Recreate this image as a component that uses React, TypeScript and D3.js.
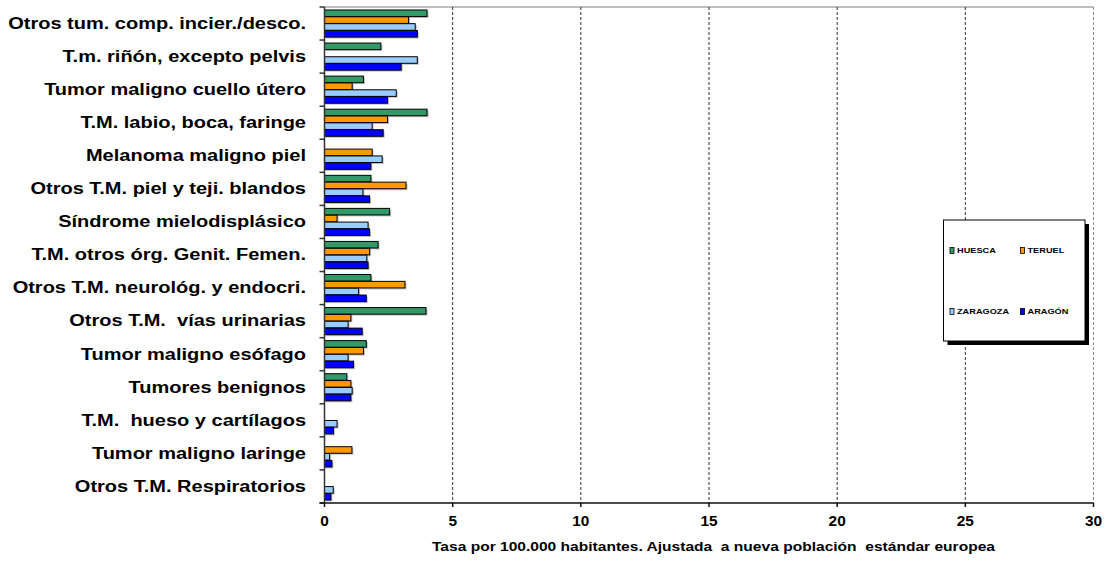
import React from "react";
import * as d3 from "d3";

const categories = [
  "Otros tum. comp. incier./desco.",
  "T.m. riñón, excepto pelvis",
  "Tumor maligno cuello útero",
  "T.M. labio, boca, faringe",
  "Melanoma maligno piel",
  "Otros T.M. piel y teji. blandos",
  "Síndrome mielodisplásico",
  "T.M. otros órg. Genit. Femen.",
  "Otros T.M. neurológ. y endocri.",
  "Otros T.M.  vías urinarias",
  "Tumor maligno esófago",
  "Tumores benignos",
  "T.M.  hueso y cartílagos",
  "Tumor maligno laringe",
  "Otros T.M. Respiratorios",
];

const huesca = [4.0, 2.2, 1.52, 4.0, 0, 1.81, 2.54, 2.09, 1.81, 3.96, 1.63, 0.87, 0, 0, 0];
const teruel = [3.28, 0, 1.08, 2.46, 1.86, 3.18, 0.49, 1.76, 3.14, 1.03, 1.52, 1.03, 0, 1.07, 0];
const zaragoza = [3.54, 3.62, 2.8, 1.86, 2.25, 1.5, 1.7, 1.65, 1.33, 0.92, 0.92, 1.08, 0.49, 0.2, 0.34];
const aragon = [3.62, 2.99, 2.46, 2.29, 1.81, 1.76, 1.76, 1.7, 1.63, 1.47, 1.13, 1.03, 0.35, 0.29, 0.25];

const seriesNames = ["HUESCA", "TERUEL", "ZARAGOZA", "ARAGÓN"];
const seriesValues = [huesca, teruel, zaragoza, aragon];
const seriesColors = ["#339966", "#FF9900", "#99CCFF", "#0000FF"];
const xTicks = [0, 5, 10, 15, 20, 25, 30];
const xTitle = "Tasa por 100.000 habitantes. Ajustada  a nueva población  estándar europea";

export default function App() {
  const W = 1112, H = 563;
  const left = 324.5, right = 1093.5, top = 7, bottom = 503;
  const x = d3.scaleLinear().domain([0, 30]).range([left, right]);
  const y = d3.scaleBand<string>().domain(categories).range([top, bottom]).padding(0);
  const bw = y.bandwidth();
  const inner = d3.scaleBand<string>().domain(seriesNames).range([bw * 0.09, bw * 0.91]).paddingInner(0.04);
  const font = "'Liberation Sans', Arial, sans-serif";

  return (
    <svg width={W} height={H} style={{ position: "absolute", left: 0, top: 0, background: "#fff" }} fontFamily={font}>
      <line x1={left} x2={right} y1={top} y2={top} stroke="#a6a6a6" strokeWidth={1.5} />
      {xTicks.filter(t => t > 0).map(t => (
        <line key={t} x1={x(t)} x2={x(t)} y1={top} y2={bottom}
          stroke={t === 30 ? "#888" : "#333"} strokeWidth={1} strokeDasharray="3,2" />
      ))}
      {categories.map((c, i) => (
        <g key={c} transform={`translate(0,${y(c)})`}>
          {seriesNames.map((s, j) => {
            const v = seriesValues[j][i];
            if (!v) return null;
            const by = inner(s)!;
            const h = inner.bandwidth();
            const w = x(v) - x(0);
            return (
              <g key={s}>
                <rect x={x(0) + 1.5} y={by + 1.5} width={w} height={h} fill="#999" opacity={0.6} />
                <rect x={x(0)} y={by} width={w} height={h} fill={seriesColors[j]} stroke="#000" strokeWidth={1} />
              </g>
            );
          })}
        </g>
      ))}
      <line x1={left} x2={left} y1={top} y2={bottom} stroke="#333" strokeWidth={1.5} />
      {categories.map((c, i) => (
        <line key={"t" + i} x1={left - 5} x2={left} y1={y(c)!} y2={y(c)!} stroke="#333" strokeWidth={1.5} />
      ))}
      <line x1={left - 5} x2={left} y1={bottom} y2={bottom} stroke="#333" strokeWidth={1.5} />
      {categories.map(c => (
        <text key={"l" + c} transform={`translate(306,${y(c)! + bw / 2}) scale(1.25,1)`} textAnchor="end"
          dominantBaseline="central" fontSize={16} fontWeight="bold" fill="#000" style={{ whiteSpace: "pre" }}>{c}</text>
      ))}
      <line x1={left - 5} x2={right} y1={bottom} y2={bottom} stroke="#111" strokeWidth={1.5} />
      {xTicks.map(t => (
        <g key={"x" + t}>
          <line x1={x(t)} x2={x(t)} y1={bottom} y2={bottom + 4} stroke="#111" strokeWidth={1.5} />
          <text transform={`translate(${x(t)},521) scale(1.1,1)`} textAnchor="middle" dominantBaseline="central"
            fontSize={14} fontWeight="bold">{t}</text>
        </g>
      ))}
      <text x={432} y={546} textLength={563} lengthAdjust="spacingAndGlyphs" dominantBaseline="central"
        fontSize={13.5} fontWeight="bold" style={{ whiteSpace: "pre" }}>{xTitle}</text>
      <rect x={947.5} y={224} width={141.5} height={121} fill="#000" />
      <rect x={943.5} y={220} width={141.5} height={121} fill="#fff" stroke="#000" strokeWidth={1} />
      {seriesNames.map((s, j) => {
        const lx = j % 2 === 0 ? 950 : 1020.5;
        const ly = j < 2 ? 250.5 : 311.5;
        return (
          <g key={"lg" + s}>
            <rect x={lx} y={ly - 3} width={4} height={6} fill={seriesColors[j]} stroke="#000" strokeWidth={0.8} />
            <text transform={`translate(${lx + 7},${ly}) scale(1.15,1)`} dominantBaseline="central"
              fontSize={8} fontWeight="bold">{s}</text>
          </g>
        );
      })}
    </svg>
  );
}
